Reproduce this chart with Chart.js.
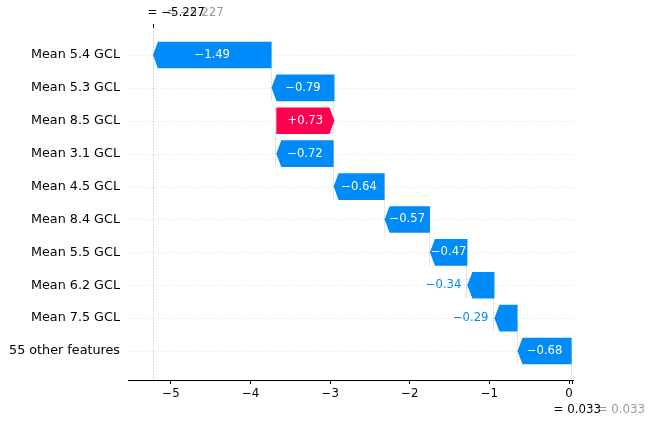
<!DOCTYPE html>
<html><head><meta charset="utf-8">
<script src="https://cdn.jsdelivr.net/npm/chart.js@4/dist/chart.umd.min.js"></script>
<style>html,body{margin:0;padding:0;background:#fff}#wrap{width:649px;height:423px}</style>
</head><body><div id="wrap"><canvas id="c" width="649" height="423"></canvas></div>
<script>
const features = ["Mean 5.4 GCL","Mean 5.3 GCL","Mean 8.5 GCL","Mean 3.1 GCL","Mean 4.5 GCL","Mean 8.4 GCL","Mean 5.5 GCL","Mean 6.2 GCL","Mean 7.5 GCL","55 other features"];
const shapValues = [-1.49,-0.79,0.73,-0.72,-0.64,-0.57,-0.47,-0.34,-0.29,-0.68];
const baseValue = 0.033;   // E[f(X)]
const fxValue = -5.227;    // f(x)
const xTickValues = [-5,-4,-3,-2,-1,0];

const BLUE = '#008bfb', PINK = '#ff0051';
const FONT = "'DejaVu Sans', sans-serif";

// cumulative waterfall from the bottom row upward
const starts = new Array(features.length), ends = new Array(features.length);
let acc = baseValue;
for (let i = features.length - 1; i >= 0; i--) {
  starts[i] = acc; acc += shapValues[i]; ends[i] = acc;
}
const fmtMinus = v => (v < 0 ? '\u2212' : '') + Math.abs(v);
const fmtVal = v => (v < 0 ? '\u2212' : '+') + Math.abs(v).toFixed(2);
const fmt3 = v => '= ' + (v < 0 ? '\u2212' : '') + Math.abs(v).toFixed(3);

const wf = {
  id: 'wf',
  beforeDatasetsDraw(chart) {
    const {ctx, chartArea: a, scales: {x, y}} = chart;
    ctx.save();
    ctx.lineWidth = 1;
    ctx.strokeStyle = '#e4e4e4';
    ctx.setLineDash([1, 2]);
    features.forEach((f, i) => {
      const py = Math.round(y.getPixelForValue(i)) + 0.5;
      ctx.beginPath(); ctx.moveTo(a.left, py); ctx.lineTo(a.right, py); ctx.stroke();
    });
    ctx.strokeStyle = '#d8d8d8';
    ctx.setLineDash([2, 1]);
    features.forEach((f, i) => {
      const px = Math.round(x.getPixelForValue(starts[i])) - 0.5;
      const y0 = y.getPixelForValue(i - 0.4);
      const y1 = Math.min(y.getPixelForValue(i + 1.4), a.bottom);
      ctx.beginPath(); ctx.moveTo(px, y0); ctx.lineTo(px, y1); ctx.stroke();
    });
    const fx = Math.round(x.getPixelForValue(fxValue)) + 0.5;
    ctx.beginPath(); ctx.moveTo(fx, a.top); ctx.lineTo(fx, a.bottom); ctx.stroke();
    ctx.restore();
  },
  afterDatasetsDraw(chart) {
    const {ctx, scales: {x, y}} = chart;
    const meta = chart.getDatasetMeta(0);
    ctx.save();
    ctx.font = '11.6px ' + FONT;
    ctx.textBaseline = 'middle';
    meta.data.forEach((bar, i) => {
      const {y: cy, height: h} = bar.getProps(['y', 'height'], true);
      const s = x.getPixelForValue(starts[i]), e = x.getPixelForValue(ends[i]);
      const dir = e < s ? -1 : 1;
      const hl = Math.min(5, Math.abs(e - s));
      const top = cy - h / 2, bot = cy + h / 2;
      const col = shapValues[i] < 0 ? BLUE : PINK;
      ctx.fillStyle = col;
      ctx.beginPath();
      ctx.moveTo(s, top); ctx.lineTo(e - dir * hl, top); ctx.lineTo(e, cy);
      ctx.lineTo(e - dir * hl, bot); ctx.lineTo(s, bot); ctx.closePath(); ctx.fill();
      const txt = fmtVal(shapValues[i]);
      const tw = ctx.measureText(txt).width;
      if (tw > Math.abs(e - s)) {
        ctx.fillStyle = col;
        ctx.textAlign = dir < 0 ? 'right' : 'left';
        ctx.fillText(txt, e + dir * 6, cy);
      } else {
        ctx.fillStyle = '#fff';
        ctx.textAlign = 'center';
        ctx.fillText(txt, (s + e) / 2, cy);
      }
    });
    ctx.restore();
  },
  afterDraw(chart) {
    const {ctx, chartArea: a, scales: {x}} = chart;
    ctx.save();
    const fx = Math.round(x.getPixelForValue(fxValue)) + 0.5;
    const bx = Math.round(x.getPixelForValue(baseValue)) + 0.5;
    ctx.strokeStyle = '#000'; ctx.lineWidth = 1;
    ctx.beginPath(); ctx.moveTo(fx, a.top - 4); ctx.lineTo(fx, a.top); ctx.stroke();
    ctx.beginPath(); ctx.moveTo(bx, a.bottom); ctx.lineTo(bx, a.bottom + 4); ctx.stroke();
    ctx.font = '11.8px ' + FONT;
    ctx.textBaseline = 'middle';
    ctx.textAlign = 'left';
    ctx.fillStyle = '#999999';
    ctx.fillText(fmt3(fxValue), fx + 13, 13);
    ctx.fillText(fmt3(baseValue), bx + 25, 410);
    ctx.fillStyle = '#000';
    ctx.fillText(fmt3(fxValue), fx - 6, 13);
    ctx.fillText(fmt3(baseValue), bx - 19, 410);
    ctx.restore();
  }
};

new Chart(document.getElementById('c'), {
  type: 'bar',
  data: {
    datasets: [{
      data: features.map((f, i) => ({y: i, x: [starts[i], ends[i]]})),
      backgroundColor: 'rgba(0,0,0,0)',
      borderWidth: 0,
      categoryPercentage: 1,
      barPercentage: 0.81
    }]
  },
  options: {
    indexAxis: 'y',
    responsive: false,
    animation: false,
    devicePixelRatio: 1,
    layout: {padding: {top: 28, right: 76, left: 0, bottom: 0}},
    plugins: {legend: {display: false}, tooltip: {enabled: false}},
    scales: {
      x: {
        type: 'linear', min: -5.54, max: 0.05,
        afterBuildTicks: s => { s.ticks = xTickValues.map(v => ({value: v})); },
        afterFit: s => { s.height = 43; },
        grid: {display: true, drawOnChartArea: false, drawTicks: true, tickLength: 4, color: '#000', lineWidth: 1},
        border: {display: true, color: '#000', width: 1},
        ticks: {padding: 3, color: '#000', font: {family: FONT, size: 11.8}, callback: v => fmtMinus(v), maxRotation: 0}
      },
      y: {
        type: 'linear', reverse: true, min: -0.82, max: 9.88, offset: false,
        afterBuildTicks: s => { s.ticks = features.map((f, i) => ({value: i})); },
        afterFit: s => { s.width = 128; },
        grid: {display: false, drawTicks: false, offset: false},
        border: {display: false},
        ticks: {padding: 8, color: '#000', font: {family: FONT, size: 12.75}, callback: v => features[v]}
      }
    }
  },
  plugins: [wf]
});
</script>
</body></html>
